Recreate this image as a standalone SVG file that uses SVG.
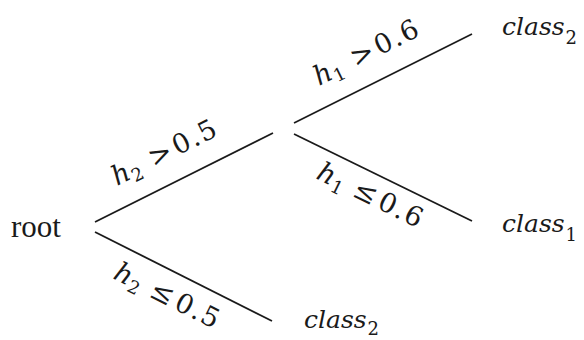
<svg xmlns="http://www.w3.org/2000/svg" width="584" height="340" viewBox="0 0 584 340">
<style>
.edge{stroke:#1a1a1a;stroke-width:1.8;fill:none;stroke-linecap:butt}
.rm{font-family:"Liberation Serif","Times New Roman",serif;font-size:31px;fill:#1a1a1a}
.mi{font-family:"DejaVu Serif",serif;font-style:italic;font-size:27px;fill:#1a1a1a}
.cl{font-family:"DejaVu Serif",serif;font-style:italic;font-size:25px;fill:#1a1a1a}
.sub{font-family:"DejaVu Serif",serif;font-size:18px;font-style:normal;fill:#1a1a1a}
.op{font-family:"DejaVu Serif",serif;font-size:28px;fill:#1a1a1a}
.num{font-family:"DejaVu Serif",serif;font-size:27px;fill:#1a1a1a;letter-spacing:1.5px}
</style>
<rect width="584" height="340" fill="#ffffff"/>
<g id="connectors">
<line class="edge" x1="95" y1="222" x2="273" y2="133"/>
<line class="edge" x1="95" y1="232" x2="272" y2="321"/>
<line class="edge" x1="294" y1="123" x2="472" y2="34"/>
<line class="edge" x1="294" y1="134" x2="472" y2="221"/>
</g>
<g id="edge-labels">
<g id="label-h2-gt" transform="translate(117,186) rotate(-26.57)">
<text class="mi" x="0" y="0">h</text><text class="sub" x="18" y="5">2</text>
<text class="op" x="41" y="0">&gt;</text><text class="num" x="68" y="0">0.5</text>
</g>
<g id="label-h2-le" transform="translate(112,278) rotate(26.57)">
<text class="mi" x="0" y="0">h</text><text class="sub" x="18" y="5">2</text>
<text class="op" x="40" y="0">≤</text><text class="num" x="68" y="0">0.5</text>
</g>
<g id="label-h1-gt" transform="translate(319,86) rotate(-26.57)">
<text class="mi" x="0" y="0">h</text><text class="sub" x="18" y="5">1</text>
<text class="op" x="41" y="0">&gt;</text><text class="num" x="68" y="0">0.6</text>
</g>
<g id="label-h1-le" transform="translate(315,178) rotate(26.05)">
<text class="mi" x="0" y="0">h</text><text class="sub" x="18" y="5">1</text>
<text class="op" x="40" y="0">≤</text><text class="num" x="68" y="0">0.6</text>
</g>
</g>
<g id="root"><text class="rm" x="11" y="237">root</text></g>
<g id="class2-top"><text class="cl" x="502" y="35">class<tspan class="sub" dx="1" dy="9">2</tspan></text></g>
<g id="class1"><text class="cl" x="502" y="232">class<tspan class="sub" dx="1" dy="9">1</tspan></text></g>
<g id="class2-bottom"><text class="cl" x="304" y="328">class<tspan class="sub" dx="1" dy="7">2</tspan></text></g>
</svg>
